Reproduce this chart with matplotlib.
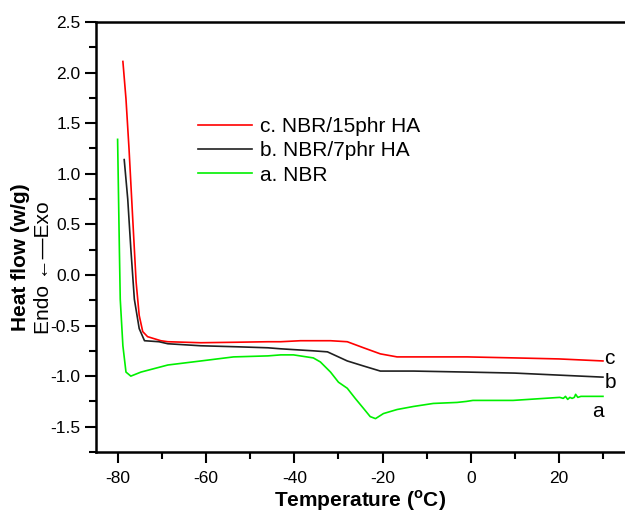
import matplotlib
matplotlib.use("Agg")
import matplotlib.pyplot as plt
from matplotlib.ticker import MultipleLocator

plt.rcParams['font.family'] = ['Liberation Sans', 'DejaVu Sans']

# c. NBR/15phr HA (red)
t_c = [-78.9, -78.2, -77.5, -76.7, -75.9, -75.2, -74.4, -73.3, -70.3, -68.7, -61.2, -53.0,
       -46.0, -43.1, -38.6, -31.8, -28.0, -24.3, -20.5, -16.7, -13.0, -0.8, 10.0, 20.0, 30.0]
hf_c = [2.11, 1.74, 1.24, 0.58, -0.07, -0.40, -0.56, -0.61, -0.65, -0.66, -0.67, -0.665,
        -0.66, -0.66, -0.65, -0.65, -0.66, -0.72, -0.78, -0.81, -0.81, -0.81, -0.82, -0.83, -0.85]

# b. NBR/7phr HA (black)
t_b = [-78.6, -77.8, -77.1, -76.3, -75.2, -74.0, -70.7, -68.7, -61.2, -53.0, -46.0, -43.1,
       -35.7, -32.5, -28.0, -24.3, -20.5, -18.9, -13.0, -0.8, 10.0, 20.0, 30.0]
hf_b = [1.14, 0.75, 0.26, -0.24, -0.53, -0.65, -0.66, -0.68, -0.70, -0.71, -0.72, -0.73,
        -0.75, -0.76, -0.85, -0.90, -0.95, -0.95, -0.95, -0.96, -0.97, -0.99, -1.01]

# a. NBR (green)
t_a = [-80.1, -79.7, -79.5, -78.9, -78.2, -77.1, -74.8, -68.7, -61.2, -53.8, -46.0, -43.1,
       -40.2, -35.7, -34.1, -31.8, -30.0, -28.0, -26.2, -24.3, -22.8, -21.6, -19.8, -16.7,
       -13.0, -8.5, -3.1, -1.0, 0.5, 9.6, 20.2, 21.0, 21.5, 22.0, 22.5, 23.0, 23.5, 23.8,
       24.3, 25.0, 30.0]
hf_a = [1.34, 0.26, -0.24, -0.70, -0.96, -1.00, -0.96, -0.89, -0.85, -0.81, -0.80, -0.79,
        -0.79, -0.82, -0.86, -0.96, -1.06, -1.12, -1.22, -1.32, -1.40, -1.42, -1.37, -1.33,
        -1.30, -1.27, -1.26, -1.25, -1.24, -1.24, -1.21, -1.22, -1.20, -1.23, -1.21, -1.22,
        -1.21, -1.18, -1.21, -1.20, -1.20]

fig = plt.figure(figsize=(6.25, 5.14), dpi=100)
ax = fig.add_axes([0.1536, 0.1206, 0.8464, 0.8366])

l_c, = ax.plot(t_c, hf_c, color='#ff0000', lw=1.2, label='c. NBR/15phr HA')
l_b, = ax.plot(t_b, hf_b, color='#202020', lw=1.2, label='b. NBR/7phr HA')
l_a, = ax.plot(t_a, hf_a, color='#00f000', lw=1.2, label='a. NBR')

ax.text(30.3, -0.83, 'c', fontsize=15, va='center', ha='left')
ax.text(30.3, -1.06, 'b', fontsize=15, va='center', ha='left')
ax.text(28.8, -1.35, 'a', fontsize=15, va='center', ha='center')

ax.set_xlim(-85, 35)
ax.set_ylim(-1.75, 2.5)
ax.xaxis.set_major_locator(MultipleLocator(20))
ax.xaxis.set_minor_locator(MultipleLocator(10))
ax.yaxis.set_major_locator(MultipleLocator(0.5))
ax.yaxis.set_minor_locator(MultipleLocator(0.25))
ax.tick_params(which='major', direction='out', length=8, width=1.5, labelsize=12.5)
ax.tick_params(which='minor', direction='out', length=5, width=1.5)
ax.tick_params(axis='x', pad=6)
ax.tick_params(axis='y', pad=3)
ax.xaxis.set_major_formatter(plt.FuncFormatter(lambda v, p: f'{v:.0f}'))
ax.yaxis.set_major_formatter(plt.FuncFormatter(lambda v, p: f'{v:.1f}'))

ax.spines['right'].set_visible(False)
for s in ['left', 'bottom', 'top']:
    ax.spines[s].set_linewidth(1.8)

ax.legend(handles=[l_c, l_b, l_a], loc='upper left', bbox_to_anchor=(0.177, 0.798),
          frameon=False, fontsize=15, handlelength=2.6, handletextpad=0.4,
          labelspacing=0.25, borderaxespad=0)

ax.set_xlabel('Temperature ($^{\\mathregular{o}}$C)', fontsize=15, fontweight='bold', labelpad=1)
fig.text(0.033, 0.5, 'Heat flow (w/g)', rotation=90, fontsize=15, fontweight='bold',
         ha='center', va='center')
fig.text(0.07, 0.48, 'Endo \u2190\u2014Exo', rotation=90, fontsize=15,
         ha='center', va='center')

fig.savefig('out.png', dpi=100)
